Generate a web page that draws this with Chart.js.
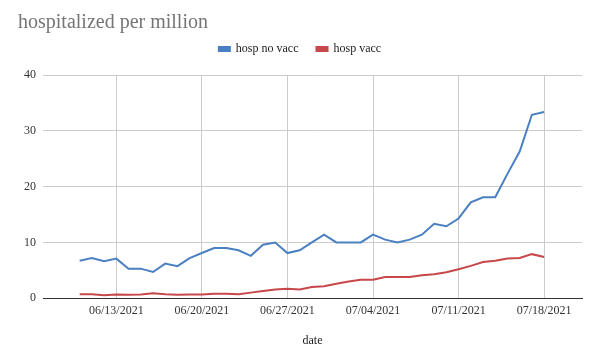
<!DOCTYPE html>
<html>
<head>
<meta charset="utf-8">
<script src="https://cdn.jsdelivr.net/npm/chart.js@4/dist/chart.umd.min.js"></script>
<style>
html,body{margin:0;padding:0;background:#fff;}
#wrap{width:594px;height:356px;}
</style>
</head>
<body>
<div id="wrap"><canvas id="c" width="594" height="356"></canvas></div>
<script>
const dates = [
  '06/10/2021','06/11/2021','06/12/2021','06/13/2021','06/14/2021','06/15/2021','06/16/2021',
  '06/17/2021','06/18/2021','06/19/2021','06/20/2021','06/21/2021','06/22/2021','06/23/2021',
  '06/24/2021','06/25/2021','06/26/2021','06/27/2021','06/28/2021','06/29/2021','06/30/2021',
  '07/01/2021','07/02/2021','07/03/2021','07/04/2021','07/05/2021','07/06/2021','07/07/2021',
  '07/08/2021','07/09/2021','07/10/2021','07/11/2021','07/12/2021','07/13/2021','07/14/2021',
  '07/15/2021','07/16/2021','07/17/2021','07/18/2021'
];
const hospNoVacc = [
  6.7, 7.2, 6.65, 7.1, 5.3, 5.3, 4.7,
  6.2, 5.75, 7.2, 8.1, 9.0, 9.0, 8.6,
  7.6, 9.6, 10.0, 8.1, 8.6, 10.0, 11.4,
  10.0, 10.0, 10.0, 11.4, 10.5, 10.0, 10.5,
  11.4, 13.35, 12.9, 14.3, 17.2, 18.1, 18.1,
  22.3, 26.3, 32.9, 33.4
];
const hospVacc = [
  0.7, 0.7, 0.55, 0.65, 0.6, 0.65, 0.9,
  0.7, 0.6, 0.65, 0.65, 0.8, 0.8, 0.7,
  1.0, 1.3, 1.55, 1.7, 1.55, 2.0, 2.15,
  2.6, 3.0, 3.3, 3.3, 3.8, 3.8, 3.8,
  4.1, 4.3, 4.65, 5.2, 5.8, 6.5, 6.7,
  7.1, 7.2, 7.9, 7.4
];
const tickLabels = ['06/13/2021','06/20/2021','06/27/2021','07/04/2021','07/11/2021','07/18/2021'];
const yTicks = [0, 10, 20, 30, 40];

const serif = "'Liberation Serif', 'Times New Roman', serif";
const tickPositions = tickLabels.map(l => dates.indexOf(l));

const titlePlugin = {
  id: 'leftTitle',
  afterDraw(chart) {
    const ctx = chart.ctx;
    ctx.save();
    ctx.font = "20px " + serif;
    ctx.fillStyle = '#757575';
    ctx.textBaseline = 'alphabetic';
    ctx.textAlign = 'left';
    ctx.fillText('hospitalized per million', 18, 28);
    ctx.restore();
  }
};

new Chart(document.getElementById('c'), {
  type: 'line',
  data: {
    datasets: [
      {
        label: 'hosp no vacc',
        data: hospNoVacc.map((v, i) => ({x: i, y: v})),
        borderColor: '#4a80c2',
        backgroundColor: '#4a80c2',
        borderWidth: 2,
        pointRadius: 0,
        tension: 0
      },
      {
        label: 'hosp vacc',
        data: hospVacc.map((v, i) => ({x: i, y: v})),
        borderColor: '#c7474a',
        backgroundColor: '#c7474a',
        borderWidth: 2,
        pointRadius: 0,
        tension: 0
      }
    ]
  },
  plugins: [titlePlugin],
  options: {
    responsive: false,
    animation: false,
    layout: { padding: { top: 25, left: 18, right: 12, bottom: 8 } },
    plugins: {
      title: { display: false },
      subtitle: {
        display: true,
        text: '',
        weight: 500,
        font: { size: 1 },
        padding: { top: 0, bottom: 9 }
      },
      tooltip: { enabled: false },
      legend: {
        display: true,
        position: 'top',
        align: 'center',
        labels: {
          font: { family: serif, size: 12 },
          color: '#222',
          boxWidth: 11,
          boxHeight: 4,
          padding: 18
        }
      }
    },
    scales: {
      x: {
        type: 'linear',
        min: -3,
        max: 41.1,
        afterBuildTicks(scale) { scale.ticks = tickPositions.map(v => ({value: v})); },
        ticks: {
          font: { family: serif, size: 12 },
          color: '#333',
          padding: 5,
          autoSkip: false,
          maxRotation: 0,
          callback: (v) => { const i = tickPositions.indexOf(v); return i >= 0 ? tickLabels[i] : ''; }
        },
        grid: { color: '#cccccc', drawTicks: false, lineWidth: 1 },
        border: { display: true, color: '#333333', width: 1 },
        title: {
          display: true,
          text: 'date',
          font: { family: serif, size: 12 },
          color: '#222',
          padding: { top: 11, bottom: 0 }
        }
      },
      y: {
        min: 0,
        max: 40,
        afterBuildTicks(scale) { scale.ticks = yTicks.map(v => ({value: v})); },
        afterFit(scale) { scale.width = 25; },
        ticks: {
          font: { family: serif, size: 12 },
          color: '#333',
          padding: 7
        },
        grid: { color: '#cccccc', drawTicks: false, lineWidth: 1 },
        border: { display: false }
      }
    }
  }
});
</script>
</body>
</html>
